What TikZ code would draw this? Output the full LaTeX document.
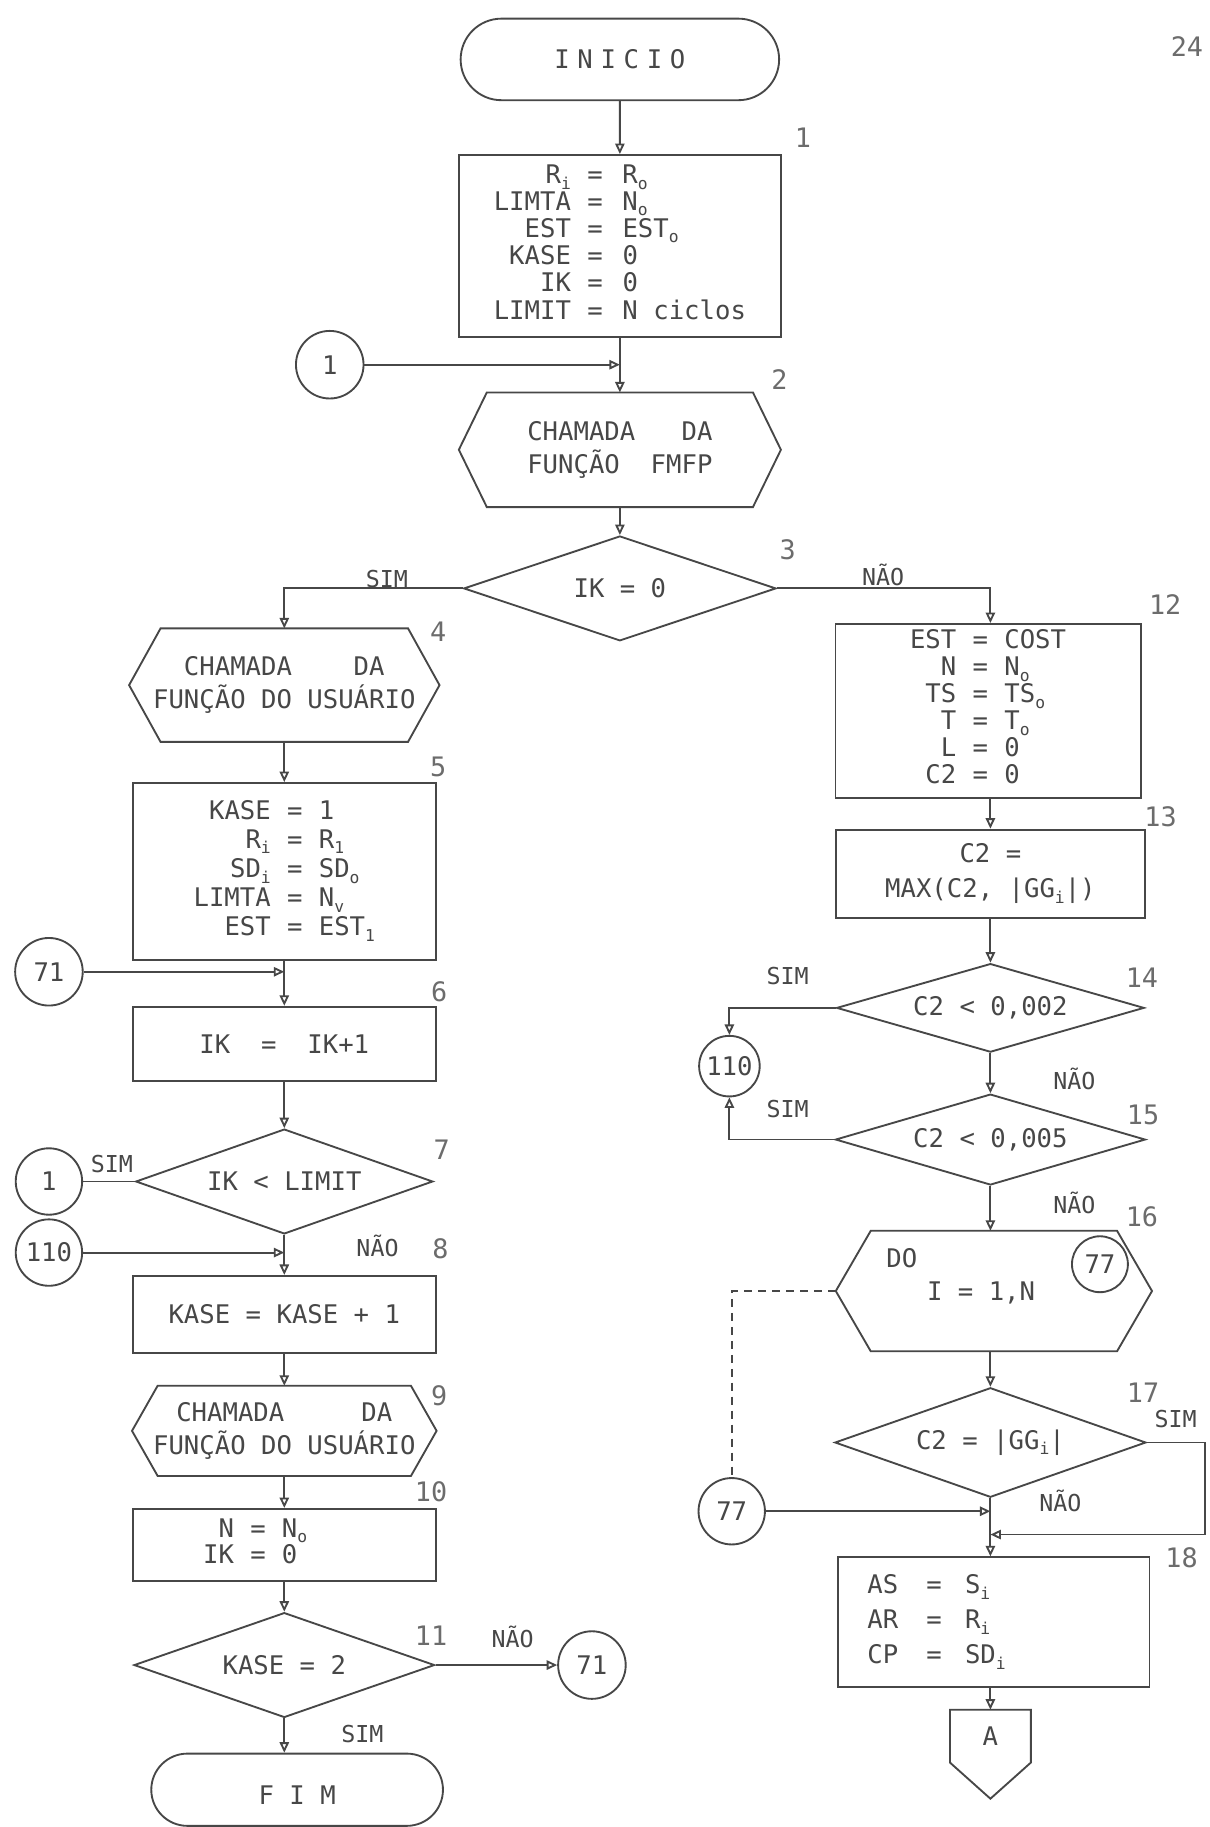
\documentclass[tikz,border=0pt]{standalone}
\usepackage{fontspec}
\setmainfont{DejaVu Sans Mono}
\newfontfamily\spcfont[LetterSpace=30]{DejaVu Sans Mono}
\usetikzlibrary{shapes.geometric,shapes.misc,arrows.meta,calc}
\definecolor{ink}{gray}{0.28}
\newcommand{\sbs}[1]{{\fontsize{14}{14}\selectfont\raisebox{-0.35em}{#1}}}
\newcommand{\hexpath}[2]{\draw[ln] (#1.west) -- ([xshift=#2]#1.north west) -- ([xshift=-#2]#1.north east) -- (#1.east) -- ([xshift=-#2]#1.south east) -- ([xshift=#2]#1.south west) -- cycle;}
\begin{document}
\begin{tikzpicture}[x=1pt,y=-1pt,
  ln/.style={draw=ink, line width=1.6pt},
  arr/.style={ln, -{Triangle[open,length=9pt,width=8pt]}},
  txt/.style={font=\fontsize{22}{23}\selectfont, text=ink},
  boxn/.style={txt, ln, rectangle, inner sep=0pt, align=center},
  dia/.style={txt, ln, diamond, shape aspect=3, inner sep=0pt},
  con/.style={txt, ln, circle, inner sep=0pt, minimum size=#1},
  con/.default=58,
  hexn/.style={txt, rectangle, inner sep=0pt, align=center, font=\fontsize{22}{28}\selectfont},
  lbl/.style={font=\fontsize{23}{23}\selectfont, text=ink!80},
  yn/.style={font=\fontsize{20}{20}\selectfont, text=ink}]
\useasboundingbox (0,0) rectangle (1038,1568);
\fill[white] (0,0) rectangle (1038,1568);

% ---------- left / upper column ----------
\node[txt, ln, rounded rectangle, minimum width=280, minimum height=70] (ini) at (532,51) {\spcfont INICIO};
\node[boxn, minimum width=276, minimum height=156] (b1) at (532,211)
 {\begin{tabular}{@{}r@{\hspace{14pt}}c@{\hspace{17pt}}l@{}}
  R\sbs{i} & = & R\sbs{o}\\
  LIMTA & = & N\sbs{o}\\
  EST & = & EST\sbs{o}\\
  KASE & = & 0\\
  IK & = & 0\\
  LIMIT & = & N\ ciclos
 \end{tabular}};
\node[con] (c1a) at (283,313) {1};
\coordinate (J1) at (532,313);
\node[hexn, minimum width=276, minimum height=98] (h2) at (532,386) {CHAMADA\ \ \ DA\\FUNÇÃO\ \ FMFP};
\hexpath{h2}{24}
\node[dia, minimum width=268, minimum height=90] (d3) at (532,505) {IK = 0};

\node[hexn, minimum width=266, minimum height=97] (h4) at (244,588) {CHAMADA\ \ \ \ DA\\FUNÇÃO DO USUÁRIO};
\hexpath{h4}{27}
\node[boxn, minimum width=260, minimum height=152, font=\fontsize{22}{25}\selectfont] (b5) at (244,748)
 {\begin{tabular}{@{}r@{\hspace{14pt}}c@{\hspace{14pt}}l@{}}
  KASE & = & 1\\
  R\sbs{i} & = & R\sbs{1}\\
  SD\sbs{i} & = & SD\sbs{o}\\
  LIMTA & = & N\sbs{v}\\
  EST & = & EST\sbs{1}
 \end{tabular}};
\node[con] (c71a) at (42,834) {71};
\coordinate (J2) at (244,834);
\node[boxn, minimum width=260, minimum height=64] (b6) at (244,896) {IK\ \ =\ \ IK+1};
\node[dia, minimum width=255, minimum height=90] (d7) at (244,1014) {IK < LIMIT};
\node[con=57] (c1b) at (42,1014) {1};
\node[con=57] (c110a) at (42,1075) {110};
\coordinate (J3) at (244,1075);
\node[boxn, minimum width=260, minimum height=66] (b8) at (244,1128) {KASE = KASE + 1};
\node[hexn, minimum width=261, minimum height=77] (h9) at (244,1228) {CHAMADA\ \ \ \ \ DA\\FUNÇÃO DO USUÁRIO};
\hexpath{h9}{22}
\node[boxn, minimum width=260, minimum height=62, font=\fontsize{22}{22}\selectfont] (b10) at (244,1326)
 {\begin{tabular}{@{}r@{\hspace{14pt}}c@{\hspace{14pt}}l@{}}
  N & = & N\sbs{o}\\
  IK & = & 0
 \end{tabular}\hspace{50pt}};
\node[dia, minimum width=258, minimum height=90] (d11) at (244,1429) {KASE = 2};
\node[con] (c71b) at (508,1429) {71};
\node[ln, rounded rectangle, minimum width=257, minimum height=62] (fim) at (255,1536) {};
\node[txt] (fimt) at (255,1541) {F\ I\ M};

% ---------- right column ----------
\node[boxn, minimum width=262, minimum height=149] (b12) at (848,610)
 {\begin{tabular}{@{}r@{\hspace{14pt}}c@{\hspace{14pt}}l@{}}
  EST & = & COST\\
  N & = & N\sbs{o}\\
  TS & = & TS\sbs{o}\\
  T & = & T\sbs{o}\\
  L & = & 0\\
  C2 & = & 0
 \end{tabular}};
\node[boxn, minimum width=265, minimum height=76, font=\fontsize{22}{30}\selectfont] (b13) at (850,750) {C2 =\\MAX(C2, |GG\sbs{i}|)};
\node[dia, minimum width=264, minimum height=76] (d14) at (850,865) {C2 < 0,002};
\node[con=52] (c110b) at (626,915) {110};
\node[dia, minimum width=266, minimum height=78] (d15) at (850,978) {C2 < 0,005};
\node[hexn, minimum width=271, minimum height=103] (h16) at (853,1108) {};
\hexpath{h16}{30}
\node[txt] (do) at (774,1080) {DO};
\node[txt] (iter) at (842,1110) {I\ =\ 1,N};
\node[con=48] (c77a) at (944,1085) {77};
\node[dia, minimum width=267, minimum height=94] (d17) at (850,1238) {C2 = |GG\sbs{i}|};
\node[con=57] (c77b) at (628,1297) {77};
\coordinate (J4) at (850,1297);
\coordinate (r17) at (1034,1317);
\coordinate (J5) at (850,1317);
\node[txt, ln, rectangle, minimum height=111, text width=217, inner xsep=25pt, inner ysep=0pt, align=left, font=\fontsize{22}{30}\selectfont] (b18) at (853,1392)
 {\begin{tabular}{@{}l@{\hspace{24pt}}c@{\hspace{20pt}}l@{}}
  AS & = & S\sbs{i}\\
  AR & = & R\sbs{i}\\
  CP & = & SD\sbs{i}
 \end{tabular}};
\node[txt, rectangle, minimum width=69, minimum height=45, inner sep=0pt] (pA) at (850,1490) {A};
\draw[ln] (pA.north west) -- (pA.north east) -- (pA.south east) -- ([yshift=-31pt]pA.south) -- (pA.south west) -- cycle;

% ---------- connectors ----------
\draw[arr] (ini) -- (ini |- b1.north);
\draw[ln] (b1.south -| J1) -- (J1);
\draw[arr] (c1a) -- (J1);
\draw[arr] (J1) -- (h2.north);
\draw[arr] (h2.south) -- (d3.north);
\draw[arr] (d3.west) -| (h4.north);
\draw[arr] (h4.south) -- (b5.north);
\draw[ln] (b5.south) -- (J2);
\draw[arr] (c71a) -- (J2);
\draw[arr] (J2) -- (b6.north);
\draw[arr] (b6.south) -- (d7.north);
\draw[ln] (d7.west) -- (c1b.east);
\draw[ln] (d7.south) -- (J3);
\draw[arr] (c110a) -- (J3);
\draw[arr] (J3) -- (b8.north);
\draw[arr] (b8.south) -- (h9.north);
\draw[arr] (h9.south) -- (b10.north);
\draw[arr] (b10.south) -- (d11.north);
\draw[arr] (d11.east) -- (c71b);
\draw[arr] (d11.south) -- (d11.south |- fim.north);

\draw[arr] (d3.east) -| (b12.north -| J4);
\draw[arr] (b12.south -| J4) -- (b13.north -| J4);
\draw[arr] (b13.south -| J4) -- (d14.north);
\draw[arr] (d14.west) -| (c110b.north);
\draw[arr] (d15.west) -| (c110b.south);
\draw[arr] (d14.south) -- (d15.north);
\draw[arr] (d15.south) -- (d15.south |- h16.north);
\draw[arr] (d15.south |- h16.south) -- (d17.north);
\draw[ln, dash pattern=on 7pt off 5pt] (h16.west) -| (c77b.north);
\draw[arr] (c77b) -- (J4);
\draw[arr] (d17.south) -- (d17.south |- b18.north);
\draw[ln] (d17.east) -| (r17);
\draw[arr] (r17) -- (J5);
\draw[arr] (b18.south -| pA.north) -- (pA.north);

% ---------- numbers and labels ----------
\node[lbl, anchor=east] (pg) at (1036,40) {24};
\node[lbl] (l1) at (689,118) {1};
\node[lbl] (l2) at (669,326) {2};
\node[lbl] (l3) at (676,472) {3};
\node[lbl] (l4) at (376,542) {4};
\node[lbl] (l5) at (376,658) {5};
\node[lbl] (l6) at (377,851) {6};
\node[lbl] (l7) at (379,987) {7};
\node[lbl] (l8) at (378,1072) {8};
\node[lbl] (l9) at (377,1198) {9};
\node[lbl] (l10) at (370,1280) {10};
\node[lbl] (l11) at (370,1404) {11};
\node[lbl] (l12) at (1000,519) {12};
\node[lbl] (l13) at (996,701) {13};
\node[lbl] (l14) at (980,839) {14};
\node[lbl] (l15) at (981,957) {15};
\node[lbl] (l16) at (980,1044) {16};
\node[lbl] (l17) at (981,1195) {17};
\node[lbl] (l18) at (1014,1337) {18};

\node[yn] (s3) at (332,497) {SIM};
\node[yn] (n3) at (758,493) {NÃO};
\node[yn] (s7) at (96,999) {SIM};
\node[yn] (n7) at (324,1069) {NÃO};
\node[yn] (n11) at (440,1405) {NÃO};
\node[yn] (s11) at (311,1488) {SIM};
\node[yn] (s14) at (676,838) {SIM};
\node[yn] (n14) at (922,926) {NÃO};
\node[yn] (s15) at (676,952) {SIM};
\node[yn] (n15) at (922,1032) {NÃO};
\node[yn] (s17) at (1009,1218) {SIM};
\node[yn] (n17) at (910,1288) {NÃO};
\end{tikzpicture}
\end{document}
